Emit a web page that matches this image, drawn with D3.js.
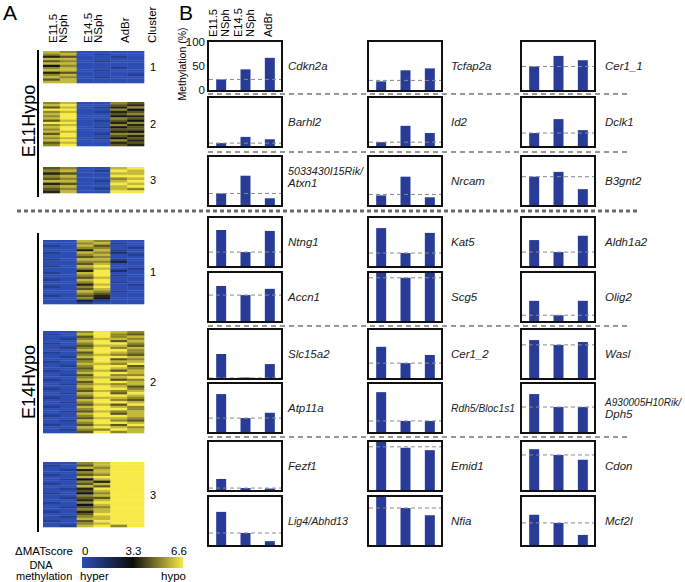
<!DOCTYPE html>
<html><head><meta charset="utf-8">
<script src="https://cdn.jsdelivr.net/npm/d3@7/dist/d3.min.js"></script>
<style>body{margin:0;background:#fff}svg{display:block;font-family:"Liberation Sans",Arial,Helvetica,sans-serif}</style>
</head><body><svg id="c" width="685" height="582"></svg>
<script>
// ---------- DATA ----------
const heatColumns = ["E11.5 NSph a","E11.5 NSph b","E14.5 NSph a","E14.5 NSph b","AdBr a","AdBr b"];
const heatHeaders = [["E11.5","NSph"],["E14.5","NSph"],["AdBr"]];
// rows of scores as digits 0..9 (0 = 0, 9 = 6.6 ΔMATscore)
const e11c1 = ["870000","780100","560010","880000","670100","880000","470000","780010","880100","560000","780001","870100","680000","880000"];
const e11c2 = ["780076","890065","680157","990074","780156","890067","790045","890076","680164","990057","780075","890146","790066","880054","690177","890065","780146","890075","680056","790065"];
const e11c3 = ["670089","780198","560088","780099","670078","880189","560098","780089","670187","580099"];
const e14c1 = ["008700","007810","108600","007701","005810","108720","007801","006700","108810","007730","006800","108900","007801","005920","108900","007910","006800","108900","007910","005801","107900","006800","008710","007600","106500","007400","003100","001000"];
const e14c2 = ["007987","108976","006978","017887","008968","107997","006886","017978","008997","106987","007876","018998","006967","107988","008879","017996","006987","107868","008998","016977","007889","108967","006998","017878","008986","107997","006878","018969","007998","106887","008976","017998","006869","108987","007997","016878","008968","107998","006887","018976","007998","106869","008987","017798","006978"];
const e14c3 = ["007899","106899","008799","015899","007899","106799","008999","014899","007599","106899","008699","015999","006899","104799","007899","016699","005899","107999","004899","016799","007899","105899","006999","017899","008899","106999","007899","018979"];
const scoreTicks = ["0","3.3","6.6"];

const samples = ["E11.5 NSph","E14.5 NSph","AdBr"];
const genes = ["Cdkn2a","Tcfap2a","Cer1_1",
  "Barhl2","Id2","Dclk1",
  "5033430I15Rik/|Atxn1","Nrcam","B3gnt2",
  "Ntng1","Kat5","Aldh1a2",
  "Accn1","Scg5","Olig2",
  "Slc15a2","Cer1_2","Wasl",
  "Atp11a","Rdh5/Bloc1s1","A930005H10Rik/|Dph5",
  "Fezf1","Emid1","Cdon",
  "Lig4/Abhd13","Nfia","Mcf2l"];
const methE115 = [22,18,49, 6,8,27, 24,20,59, 75,79,54, 73,100,42, 50,65,79, 79,83,79, 23,100,85, 69,100,63];
const methE145 = [43,41,71, 19,42,56, 61,59,69, 29,27,29, 54,90,12, 1,31,69, 29,23,52, 4,88,73, 25,77,46];
const methAdBr = [67,45,62, 14,27,33, 14,16,33, 73,69,63, 67,100,42, 29,48,75, 40,23,52, 3,83,63, 8,62,21];
const refLine  = [22,20,49, 6,8,27, 24,22,59, 29,27,29, 54,90,12, 0,31,69, 29,23,52, 4,90,73, 25,77,46];
const yTicks = [0,50,100];

// ---------- LAYOUT ----------
const svg = d3.select("#c");
const font = '"Liberation Sans",Arial,Helvetica,sans-serif';

svg.append("text").attr("x",3).attr("y",20).attr("font-size",21).text("A");
svg.append("text").attr("x",179).attr("y",20).attr("font-size",21).text("B");

// ---- Panel A heatmap
const color = d3.scaleLinear().domain([0,3.3,6.6]).range(["#2c4db4","#0c0c0c","#f7ea45"]);
const hx = d3.scaleBand().domain(heatColumns).range([43,144]);
const clusters = [
  {rows:e11c1, y0:51, y1:83, lab:"1"},
  {rows:e11c2, y0:102, y1:146, lab:"2"},
  {rows:e11c3, y0:167, y1:193, lab:"3"},
  {rows:e14c1, y0:240, y1:304, lab:"1"},
  {rows:e14c2, y0:331, y1:433, lab:"2"},
  {rows:e14c3, y0:462, y1:527, lab:"3"}];
const gA = svg.append("g");
clusters.forEach(cl => {
  const hy = d3.scaleBand().domain(d3.range(cl.rows.length)).range([cl.y0, cl.y1]);
  cl.rows.forEach((r,i) => {
    r.split("").forEach((ch,j) => {
      gA.append("rect").attr("x",hx(heatColumns[j])).attr("y",hy(i))
        .attr("width",hx.bandwidth()+0.3).attr("height",hy.bandwidth()+0.3)
        .attr("fill",color(+ch*6.6/9));
    });
  });
  gA.append("text").attr("x",153).attr("y",(cl.y0+cl.y1)/2+4).attr("text-anchor","middle")
    .attr("font-size",11).text(cl.lab);
});
const hdrCenters = [[53,63],[88,98],[125]];
heatHeaders.forEach((lines,k) => lines.forEach((t,m) => {
  svg.append("text").attr("transform",`translate(${hdrCenters[k][m]},43) rotate(-90)`)
    .attr("dy","0.35em").attr("font-size",11.5).text(t);
}));
svg.append("text").attr("transform","translate(152,43) rotate(-90)").attr("dy","0.35em")
  .attr("font-size",11.5).text("Cluster");
svg.append("line").attr("x1",38).attr("x2",38).attr("y1",50).attr("y2",197).attr("stroke","#000").attr("stroke-width",2);
svg.append("line").attr("x1",38).attr("x2",38).attr("y1",233).attr("y2",532).attr("stroke","#000").attr("stroke-width",2);
svg.append("text").attr("transform","translate(29,121) rotate(-90)").attr("dy","0.35em")
  .attr("text-anchor","middle").attr("font-size",18).text("E11Hypo");
svg.append("text").attr("transform","translate(29,382) rotate(-90)").attr("dy","0.35em")
  .attr("text-anchor","middle").attr("font-size",18).text("E14Hypo");

// colorbar
const grad = svg.append("defs").append("linearGradient").attr("id","cb");
d3.range(0,1.0001,0.1).forEach(t => grad.append("stop").attr("offset",t).attr("stop-color",color(t*6.6)));
svg.append("rect").attr("x",82).attr("y",557).attr("width",101).attr("height",11).attr("fill","url(#cb)");
const cbx = d3.scaleLinear().domain([0,6.6]).range([82,187]);
scoreTicks.forEach((t,i) => svg.append("text").attr("x", i==0?82:(i==1?cbx(3.3)-1:187)).attr("y",555)
  .attr("text-anchor", i==0?"start":(i==1?"middle":"end")).attr("font-size",11.5).text(t));
svg.append("text").attr("x",73).attr("y",555).attr("text-anchor","end").attr("font-size",11.5).text("ΔMATscore");
svg.append("text").attr("x",41).attr("y",569).attr("text-anchor","middle").attr("font-size",11).text("DNA");
svg.append("text").attr("x",16).attr("y",580).attr("font-size",11).text("methylation");
svg.append("text").attr("x",80).attr("y",580).attr("font-size",11.5).text("hyper");
svg.append("text").attr("x",186).attr("y",580).attr("text-anchor","end").attr("font-size",11.5).text("hypo");

// ---- Panel B bar panels
const colX = [208,368,521];
const labOff = [6,9,10];
const rowTop = [41,97,156,217,272,329,383,441,496];
const boxW = 74, boxH = 50;
const bx = d3.scaleBand().domain(samples).range([1,boxW]).paddingInner(0.59).paddingOuter(0.295);
const by = d3.scaleLinear().domain([0,100]).range([boxH-1,1]);
const vals = [methE115, methE145, methAdBr];
const fitLen = {"5033430I15Rik/":[11,75], "A930005H10Rik/":[10.2,76], "Rdh5/Bloc1s1":[11,64], "Lig4/Abhd13":[11,60]};

genes.forEach((g,i) => {
  const r = Math.floor(i/3), c = i%3;
  const gp = svg.append("g").attr("transform",`translate(${colX[c]},${rowTop[r]})`);
  gp.selectAll("rect.bar").data(samples).join("rect").attr("class","bar")
    .attr("x",d=>bx(d)).attr("width",bx.bandwidth())
    .attr("y",(d,k)=>by(vals[k][i])).attr("height",(d,k)=>by(0)-by(vals[k][i]))
    .attr("fill","#283b97");
  gp.append("line").attr("x1",1).attr("x2",boxW-1).attr("y1",by(refLine[i])).attr("y2",by(refLine[i]))
    .attr("stroke","#8a8a8a").attr("stroke-width",1).attr("stroke-dasharray","4,3");
  gp.append("rect").attr("x",0).attr("y",0).attr("width",boxW).attr("height",boxH)
    .attr("fill","none").attr("stroke","#111").attr("stroke-width",2);
  const lines = g.split("|");
  const lx = boxW + labOff[c];
  const lt = gp.append("text").attr("x",lx).attr("font-size",11.5).attr("font-style","italic").attr("fill","#222");
  const fit = (sel, t) => { if (fitLen[t]) sel.attr("font-size",fitLen[t][0]).attr("textLength",fitLen[t][1]).attr("lengthAdjust","spacingAndGlyphs"); };
  if (lines.length==1) {
    lt.attr("y",boxH/2+4).text(g); fit(lt, g);
  } else {
    const off = r===2 ? -6 : -2;
    const t1 = lt.append("tspan").attr("x",lx).attr("y",boxH/2+off).text(lines[0]); fit(t1, lines[0]);
    lt.append("tspan").attr("x",lx).attr("y",boxH/2+off+12).text(lines[1]);
  }
  if (i===0) {
    const ax = d3.axisLeft(by).tickValues(yTicks).tickSize(0).tickPadding(3);
    gp.append("g").call(ax).call(s=>s.select(".domain").remove())
      .call(s=>s.selectAll("text").attr("font-size",11.5).attr("font-family",font).attr("fill","#111"));
  }
});
const bHdr = [[213,225],[238,250],[268]];
heatHeaders.forEach((lines,k) => lines.forEach((t,m) => {
  svg.append("text").attr("transform",`translate(${bHdr[k][m]},37) rotate(-90)`)
    .attr("dy","0.35em").attr("font-size",11).text(t);
}));
svg.append("text").attr("transform","translate(182,64) rotate(-90)").attr("dy","0.35em")
  .attr("text-anchor","middle").attr("font-size",10.5).text("Methylation (%)");

// separators
[94,152,326,437].forEach(y => svg.append("line").attr("x1",208).attr("x2",630).attr("y1",y).attr("y2",y)
  .attr("stroke","#777").attr("stroke-width",1.3).attr("stroke-dasharray","5,4"));
svg.append("line").attr("x1",17).attr("x2",638).attr("y1",211).attr("y2",211)
  .attr("stroke","#6a6a6a").attr("stroke-width",3).attr("stroke-dasharray","4,3");
</script></body></html>
